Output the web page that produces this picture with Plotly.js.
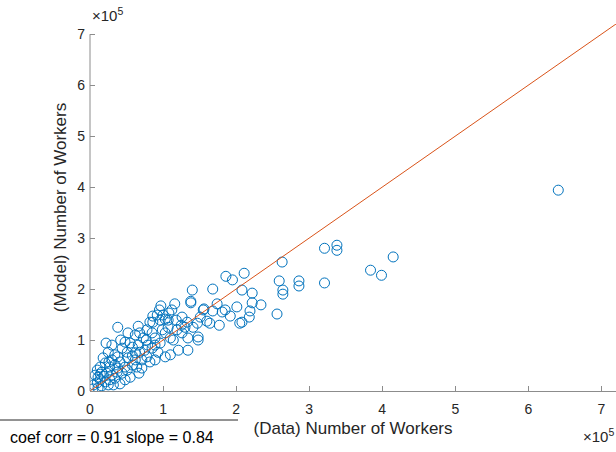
<!DOCTYPE html>
<html>
<head>
<meta charset="utf-8">
<script src="https://cdn.plot.ly/plotly-3.0.1.min.js"></script>
<style>html,body{margin:0;padding:0;background:#fff;}#chart{width:616px;height:452px;}</style>
</head>
<body>
<div id="chart"></div>
<script>
// Data (number of workers): observed data vs model prediction
var dataWorkers = [641000,415000,384000,399000,321000,338000,338000,263000,259000,264000,264000,286000,286000,321000,256000,211000,186000,195000,208000,222000,222000,234000,219000,218000,208000,201000,205000,168000,140000,138000,138000,116000,97000,95000,174000,156000,168000,181000,185000,112000,108000,126000,92000,100000,103000,86000,86000,96000,107000,133000,141000,160000,164000,177000,125000,38000,52000,62000,68000,78000,73000,85000,89000,99000,103000,107000,119000,126000,130000,110000,114000,134000,148000,148000,121000,134000,103000,22000,48000,55000,44000,34000,58000,66000,62000,68000,75000,79000,85000,89000,93000,51000,52000,62000,71000,78000,38000,30000,21000,14000,27000,34000,38000,48000,58000,64000,16000,11000,23000,30000,37000,44000,14000,21000,10000,16000,27000,34000,25000,11000,18000,25000,10000,7000,41000,51000,55000,48000,32000,5000,19000,26000,71000,82000,77000,96000,118000,151000,192000,58000,42000,66000,82000,155000,147000,30000,67000,4000,14000,41000,89000,110000];
var modelWorkers = [394000,263000,237000,227000,280000,286000,276000,253000,216000,198000,190000,216000,206000,212000,151000,231000,225000,218000,198000,192000,173000,169000,157000,145000,135000,165000,133000,200000,198000,176000,173000,171000,167000,159000,171000,161000,157000,155000,159000,159000,153000,145000,149000,149000,141000,147000,135000,139000,139000,135000,125000,137000,133000,129000,129000,125000,114000,110000,114000,120000,104000,114000,104000,120000,114000,125000,120000,114000,125000,104000,100000,104000,106000,100000,80000,80000,67000,94000,96000,94000,84000,71000,86000,90000,75000,76000,80000,90000,84000,90000,76000,76000,65000,61000,61000,67000,67000,61000,55000,47000,47000,51000,45000,47000,51000,47000,37000,27000,35000,31000,37000,35000,22000,18000,16000,10000,22000,25000,12000,6000,65000,76000,41000,31000,57000,41000,27000,22000,12000,12000,29000,57000,45000,57000,100000,94000,139000,145000,147000,69000,100000,127000,135000,159000,133000,90000,35000,4000,33000,14000,61000,71000];
// 45-degree reference line
var lineX = [0, 720000];
var lineY = [0, 720000];
// Axes
var tickVals = [0,100000,200000,300000,400000,500000,600000,700000];
var tickLabels = ['0','1','2','3','4','5','6','7'];
var axisMax = 720000;
var xTitle = '(Data) Number of Workers';
var yTitle = '(Model) Number of Workers';
var statsText = 'coef corr = 0.91 slope = 0.84';
var expText = '\u00d710<sup>5</sup>';

var FONT = '"Liberation Sans", Arial, Helvetica, sans-serif';
var AX = '#8c8c8c', TXT = '#262626';

var traces = [
  {x: dataWorkers, y: modelWorkers, type: 'scatter', mode: 'markers',
   marker: {symbol: 'circle-open', size: 10, color: '#0072BD', line: {width: 1, color: '#0072BD'}},
   hoverinfo: 'x+y'},
  {x: lineX, y: lineY, type: 'scatter', mode: 'lines',
   line: {color: '#D95319', width: 1}, hoverinfo: 'skip'}
];

var layout = {
  width: 616, height: 452,
  margin: {l: 90, r: 0, t: 24, b: 61, pad: 0},
  paper_bgcolor: '#fff', plot_bgcolor: '#fff',
  showlegend: false,
  font: {family: FONT, size: 14, color: TXT},
  xaxis: {range: [0, axisMax], tickvals: tickVals, ticktext: tickLabels,
    ticks: 'inside', ticklen: 5, tickcolor: AX, tickwidth: 1,
    showline: true, linecolor: AX, linewidth: 1, mirror: false,
    showgrid: false, zeroline: false, fixedrange: true,
    tickfont: {family: FONT, size: 14, color: TXT},
    ticklabelstandoff: 5,
    title: {text: xTitle, font: {family: FONT, size: 17, color: TXT}, standoff: 6}},
  yaxis: {range: [0, axisMax], tickvals: tickVals, ticktext: tickLabels,
    ticks: 'inside', ticklen: 5, tickcolor: AX, tickwidth: 1,
    showline: false, showgrid: false, zeroline: false, fixedrange: true,
    tickfont: {family: FONT, size: 14, color: TXT},
    ticklabelstandoff: 4,
    title: {text: yTitle, font: {family: FONT, size: 17, color: TXT}, standoff: 6}},
  shapes: [
    {type: 'line', xref: 'paper', yref: 'paper', x0: 0, x1: 0, y0: 0, y1: 700000/axisMax,
     line: {color: AX, width: 1}, layer: 'above'},
    {type: 'line', xref: 'paper', yref: 'paper', x0: -90/526, x1: (238-90)/526,
     y0: (391-420)/367, y1: (391-420)/367, line: {color: TXT, width: 1}}
  ],
  annotations: [
    {text: expText, xref: 'paper', yref: 'paper', x: 0, y: (391-15)/367,
     xanchor: 'left', yanchor: 'middle', showarrow: false,
     font: {family: FONT, size: 15, color: TXT}},
    {text: expText, xref: 'paper', yref: 'paper', x: 1, y: (391-435)/367,
     xanchor: 'right', yanchor: 'middle', showarrow: false,
     font: {family: FONT, size: 15, color: TXT}},
    {text: statsText, xref: 'paper', yref: 'paper', x: (8-90)/526, y: (391-437)/367,
     xanchor: 'left', yanchor: 'middle', showarrow: false,
     font: {family: FONT, size: 16, color: '#000'}}
  ]
};

Plotly.newPlot('chart', traces, layout, {displayModeBar: false, staticPlot: true});
</script>
</body>
</html>
